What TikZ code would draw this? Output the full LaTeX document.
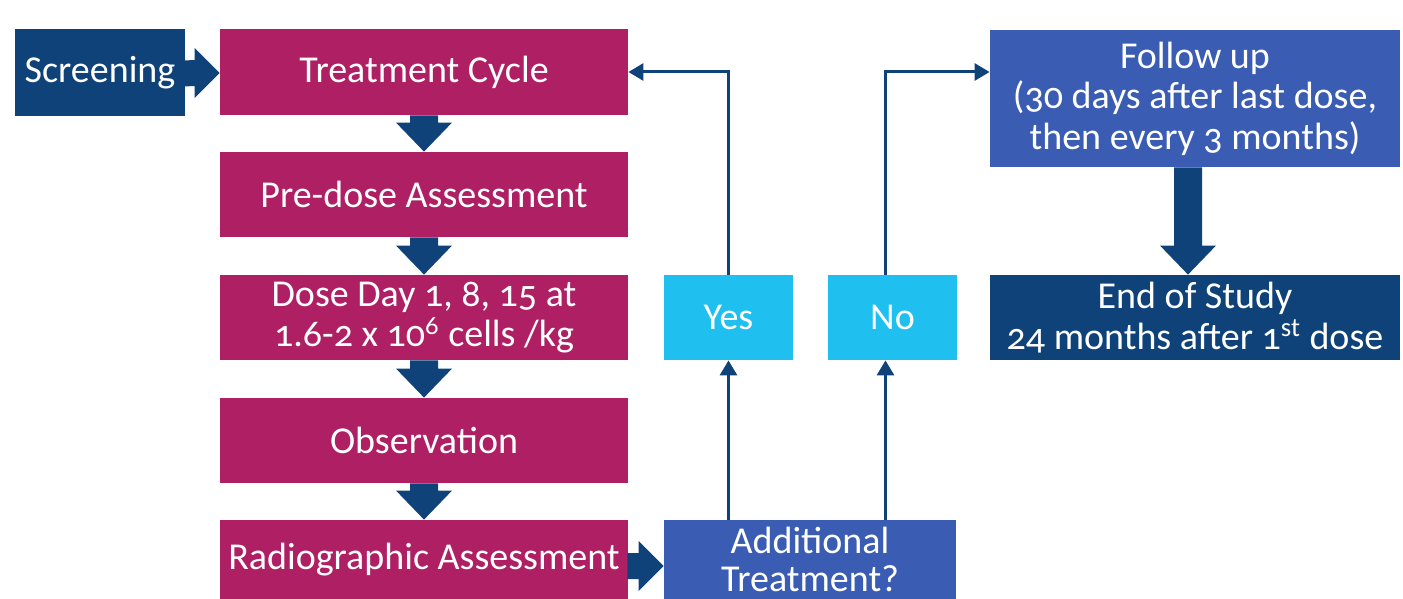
\documentclass[tikz,border=0pt]{standalone}
\usepackage{fontspec}
\setmainfont{Carlito}[Numbers=OldStyle]
\usetikzlibrary{calc,arrows.meta}
\definecolor{navy}{HTML}{0F4278}
\definecolor{magentabox}{HTML}{AE1F63}
\definecolor{bluebox}{HTML}{3A5CB2}
\definecolor{cyanbox}{HTML}{1FC0F0}
\newcommand{\blockdown}[3]{%
  \fill[navy] ($(#1.south)+(#3-14,0)$) -- ($(#2.north)+(#3-14,-29)$) -- ($(#2.north)+(#3-28,-29)$) -- ($(#2.north)+(#3,0)$) -- ($(#2.north)+(#3+28,-29)$) -- ($(#2.north)+(#3+14,-29)$) -- ($(#1.south)+(#3+14,0)$) -- cycle;}
\newcommand{\blockright}[3]{%
  \fill[navy] ($(#1.east)+(-1,#3-13)$) -- ($(#2.west)+(-25,#3-13)$) -- ($(#2.west)+(-25,#3-25)$) -- ($(#2.west)+(0,#3)$) -- ($(#2.west)+(-25,#3+25)$) -- ($(#2.west)+(-25,#3+13)$) -- ($(#1.east)+(-1,#3+13)$) -- cycle;}
\begin{document}
\begin{tikzpicture}[x=0.5pt,y=-0.5pt,
  box/.style={inner sep=0pt, align=center, text=white, font=\fontsize{19}{20.2}\selectfont},
  mbox/.style={box, fill=magentabox, minimum width=204pt, minimum height=42.5pt},
  conn/.style={draw=navy, line width=1.5pt, -{Triangle[width=8.5pt,length=7.5pt]}}]
\useasboundingbox (0,0) rectangle (1403,599);
\node[box, fill=navy, minimum width=85pt, minimum height=43.5pt] (scr) at (100,72.5) {Screening};
\node[mbox, minimum height=43pt] (tc) at (424,72) {Treatment Cycle};
\node[mbox] (pre) at (424,194.5) {Pre-dose Assessment};
\node[mbox] (dose) at (424,317.5) {Dose Day 1, 8, 15 at\\1.6-2 x 10\textsuperscript{6} cells /kg};
\node[mbox] (obs) at (424,440.5) {Observation};
\node[mbox, minimum height=39.5pt] (rad) at (424,559.5) {Radiographic Assessment};
\node[box, fill=bluebox, minimum width=146pt, minimum height=39.5pt, font=\fontsize{19}{19}\selectfont] (add) at (810,559.5) {Additional\\Treatment?};
\node[box, fill=cyanbox, minimum width=64.5pt, minimum height=42.5pt] (yes) at (728.5,317.5) {Yes};
\node[box, fill=cyanbox, minimum width=64.5pt, minimum height=42.5pt] (no) at (892.5,317.5) {No};
\node[box, fill=bluebox, minimum width=205pt, minimum height=68.5pt] (fu) at (1195,98.5) {Follow up\\(30 days after last dose,\\then every 3 months)};
\node[box, fill=navy, minimum width=205pt, minimum height=42.5pt] (end) at (1195,317.5) {End of Study\\24 months after 1\textsuperscript{st} dose};
\blockright{scr}{tc}{1}
\blockdown{tc}{pre}{0}
\blockdown{pre}{dose}{0}
\blockdown{dose}{obs}{0}
\blockdown{obs}{rad}{0}
\blockright{rad}{add}{6.5}
\blockdown{fu}{end}{-7}
\draw[conn] (yes.south |- add.north) -- (yes.south);
\draw[conn] (yes.north) |- (tc.east);
\draw[conn] ([xshift=-3.5pt]no.south |- add.north) -- ([xshift=-3.5pt]no.south);
\draw[conn] ([xshift=-3.5pt]no.north) |- (fu.west |- tc.east);
\end{tikzpicture}
\end{document}
